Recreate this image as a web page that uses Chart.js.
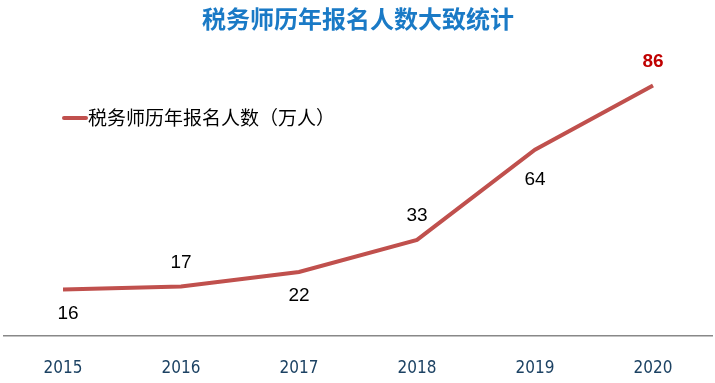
<!DOCTYPE html>
<html>
<head>
<meta charset="utf-8">
<script src="https://cdn.jsdelivr.net/npm/chart.js@4"></script>
<style>
    html, body { margin: 0; padding: 0; background: #fff; }
    #wrap { width: 715px; height: 383px; position: relative; }
</style>
</head>
<body>
<div id="wrap"><canvas id="chart" width="715" height="383"></canvas></div>
<script>
const years = ['2015', '2016', '2017', '2018', '2019', '2020'];
const applicants = [16, 17, 22, 33, 64, 86];
const labelBelow = [true, false, true, false, true, false];
const seriesName = '税务师历年报名人数（万人）';
const chartTitle = '税务师历年报名人数大致统计';

// value labels next to each point
const valueLabels = {
    id: 'valueLabels',
    afterDatasetsDraw(chart) {
        const ctx = chart.ctx;
        const meta = chart.getDatasetMeta(0);
        ctx.save();
        ctx.textAlign = 'center';
        ctx.textBaseline = 'middle';
        meta.data.forEach((pt, i) => {
            const last = i === applicants.length - 1;
            ctx.font = (last ? 'bold ' : '') + '19px "Liberation Sans", Arial, sans-serif';
            ctx.fillStyle = last ? '#c00000' : '#000';
            let dy = labelBelow[i] ? 24 : -24;
            if (i === 4) dy = 30; // sits a bit lower on the steep part
            ctx.fillText(String(applicants[i]), pt.x + (i === 0 ? 5 : 0), pt.y + dy);
        });
        ctx.restore();
    }
};

// legend drawn by hand at the upper left
const manualLegend = {
    id: 'manualLegend',
    afterDraw(chart) {
        const ctx = chart.ctx;
        ctx.save();
        ctx.strokeStyle = '#c0504d';
        ctx.lineWidth = 4;
        ctx.lineCap = 'round';
        ctx.beginPath();
        ctx.moveTo(64, 118);
        ctx.lineTo(86, 118);
        ctx.stroke();
        ctx.font = '19px "Noto Sans CJK SC", sans-serif';
        ctx.fillStyle = '#000';
        ctx.textBaseline = 'middle';
        ctx.fillText(seriesName, 88, 118);
        ctx.restore();
    }
};

new Chart(document.getElementById('chart').getContext('2d'), {
    type: 'line',
    data: {
        labels: years,
        datasets: [{
            label: seriesName,
            data: applicants,
            borderColor: '#c0504d',
            borderWidth: 4,
            pointRadius: 0,
            tension: 0,
            fill: false
        }]
    },
    options: {
        responsive: false,
        animation: false,
        layout: { padding: { left: 4, right: 3, top: 0, bottom: 5 } },
        plugins: {
            legend: { display: false },
            tooltip: { enabled: false },
            title: {
                display: true,
                text: chartTitle,
                color: '#1a7ac6',
                font: { size: 24, weight: 'bold', family: '"Noto Sans CJK SC", sans-serif', lineHeight: 1.2 },
                padding: { top: 4, bottom: 12 }
            }
        },
        scales: {
            x: {
                offset: true,
                grid: { display: false, drawTicks: false },
                border: { display: true, color: '#888', width: 1.5 },
                ticks: {
                    color: '#1c4263',
                    padding: 22,
                    maxRotation: 0,
                    font: { size: 17, family: '"DejaVu Sans Condensed", "Liberation Sans Narrow", sans-serif' }
                },
                afterFit(scale) { scale.height = 42; }
            },
            y: {
                display: false,
                min: 0,
                max: 100
            }
        }
    },
    plugins: [valueLabels, manualLegend]
});
</script>
</body>
</html>
